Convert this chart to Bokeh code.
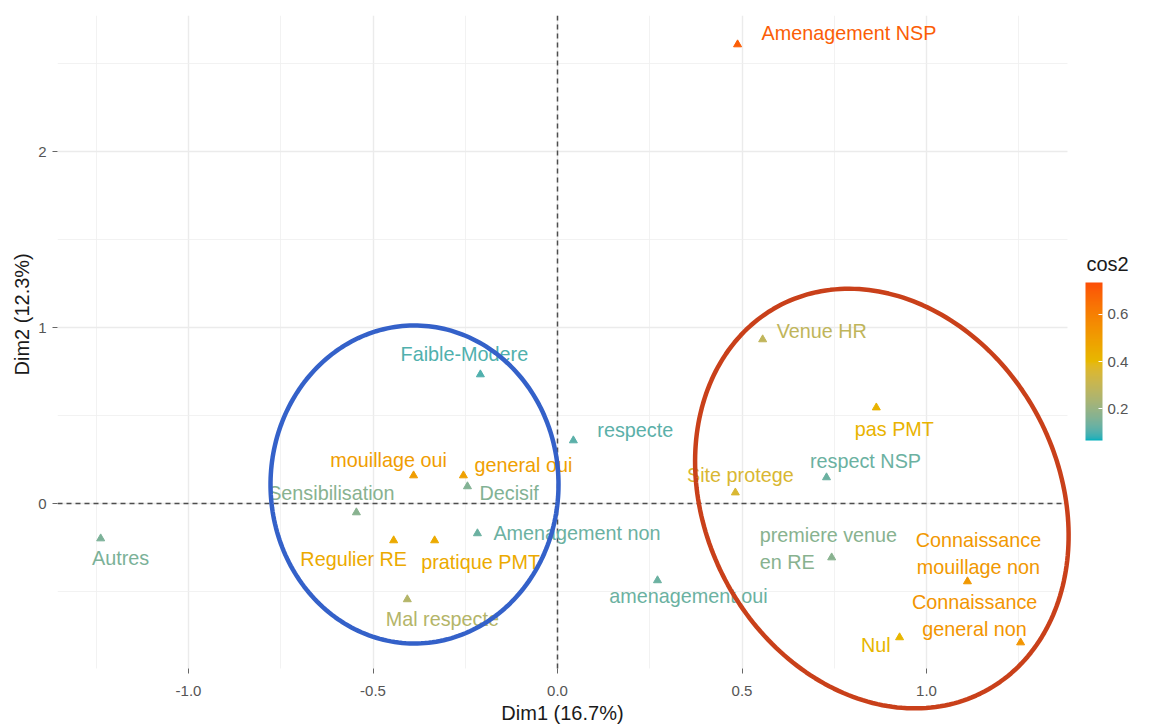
import numpy as np
from bokeh.plotting import figure
from bokeh.models import (ColumnDataSource, LinearColorMapper, ColorBar, FixedTicker,
                          PolyAnnotation, Title)
from bokeh.transform import transform
from bokeh.core.properties import value, field
from bokeh.embed import file_html
from bokeh.resources import INLINE

# ---------------- data ----------------
labels = ["Amenagement NSP", "Venue HR", "Faible-Modere", "pas PMT", "respecte",
          "respect NSP", "Site protege", "mouillage oui", "general oui", "Decisif",
          "Sensibilisation", "Regulier RE", "pratique PMT", "Amenagement non",
          "Mal respecte", "Autres", "amenagement oui", "premiere venue\nen RE",
          "Connaissance\nmouillage non", "Connaissance\ngeneral non", "Nul"]
dim1 = [0.488, 0.556, -0.209, 0.864, 0.043,
        0.729, 0.482, -0.390, -0.255, -0.244,
        -0.545, -0.444, -0.333, -0.217,
        -0.407, -1.238, 0.271, 0.743,
        1.111, 1.255, 0.927]
dim2 = [2.608, 0.932, 0.733, 0.545, 0.358,
        0.148, 0.062, 0.159, 0.159, 0.097,
        -0.051, -0.210, -0.210, -0.170,
        -0.545, -0.199, -0.437, -0.307,
        -0.443, -0.790, -0.761]
cos2 = [0.70, 0.29, 0.10, 0.42, 0.11,
        0.13, 0.36, 0.50, 0.49, 0.16,
        0.17, 0.45, 0.45, 0.13,
        0.26, 0.15, 0.13, 0.17,
        0.52, 0.53, 0.41]
cos2_ticks = [0.2, 0.4, 0.6]
x_ticks = [-1.0, -0.5, 0.0, 0.5, 1.0]
x_minor = [-1.25, -0.75, -0.25, 0.25, 0.75, 1.25]
y_ticks = [0, 1, 2]
y_minor = [-0.5, 0.5, 1.5, 2.5]
x_title = "Dim1 (16.7%)"
y_title = "Dim2 (12.3%)"
legend_title = "cos2"

# label placement (screen pixel offsets, repel-like)
label_dx = [24, 14, -16, 18, 24, 39, 5, -25, 11, 12, -25, -40, 46, 16, 35, 20, 31, -72, 11, -46, -9]
label_dy = [-11, -8, -20, 21, -10, -16, -18, -16, -11, 7, -19, 19, 22, 0, 20, 19, 16, -9, -28, -27, 8]
label_align = ["left", "left", "center", "center", "left", "center", "center", "center", "left",
               "left", "center", "center", "center", "left", "center", "center", "center", "left",
               "center", "center", "right"]

# ---------------- colour scale (Lab interpolation like ggplot) ----------------
def hex2rgb(h):
    h = h.lstrip("#")
    return [int(h[i:i + 2], 16) for i in (0, 2, 4)]

WN = (0.95047, 1.0, 1.08883)

def rgb2lab(c):
    def lin(v):
        v = v / 255
        return v / 12.92 if v <= 0.04045 else ((v + 0.055) / 1.055) ** 2.4
    R, G, B = (lin(v) for v in c)
    X = 0.4124564 * R + 0.3575761 * G + 0.1804375 * B
    Y = 0.2126729 * R + 0.7151522 * G + 0.0721750 * B
    Z = 0.0193339 * R + 0.1191920 * G + 0.9503041 * B
    def f(t):
        return t ** (1 / 3) if t > 216 / 24389 else (24389 / 27 * t + 16) / 116
    fx, fy, fz = f(X / WN[0]), f(Y / WN[1]), f(Z / WN[2])
    return (116 * fy - 16, 500 * (fx - fy), 200 * (fy - fz))

def lab2hex(lab):
    L, a, b = lab
    fy = (L + 16) / 116
    fx = fy + a / 500
    fz = fy - b / 200
    def finv(t):
        return t ** 3 if t ** 3 > 216 / 24389 else (116 * t - 16) / (24389 / 27)
    X, Y, Z = finv(fx) * WN[0], finv(fy) * WN[1], finv(fz) * WN[2]
    R = 3.2404542 * X - 1.5371385 * Y - 0.4985314 * Z
    G = -0.9692660 * X + 1.8760108 * Y + 0.0415560 * Z
    B = 0.0556434 * X - 0.2040259 * Y + 1.0572252 * Z
    def g(v):
        v = 12.92 * v if v <= 0.0031308 else 1.055 * v ** (1 / 2.4) - 0.055
        return int(round(min(max(v, 0), 1) * 255))
    return "#%02x%02x%02x" % (g(R), g(G), g(B))

low_c, mid_c, high_c = (rgb2lab(hex2rgb(h)) for h in ("#00AFBB", "#E7B800", "#FC4E07"))
palette = []
N = 256
for i in range(N):
    t = i / (N - 1)
    if t <= 0.5:
        s, a0, a1 = t * 2, low_c, mid_c
    else:
        s, a0, a1 = (t - 0.5) * 2, mid_c, high_c
    palette.append(lab2hex(tuple(a0[k] + (a1[k] - a0[k]) * s for k in range(3))))

mapper = LinearColorMapper(palette=palette, low=0.065, high=0.735)

# ---------------- figure ----------------
PX0, PX1 = 57, 1164          # frame (page px); legend lives inside the right part
PY0, PY1 = 15, 725
PANEL_R, PANEL_B = 1067, 668  # visible panel edges (page px)
X_ZERO, X_UNIT = 557, 369.0   # page px of x=0 and px per unit
Y_ZERO, Y_UNIT = 503, 176.0
X0, X1 = (PX0 - X_ZERO) / X_UNIT, (PX1 - X_ZERO) / X_UNIT
Y0, Y1 = (Y_ZERO - PY1) / Y_UNIT, (Y_ZERO - PY0) / Y_UNIT
AXIS_Y = (Y_ZERO - PANEL_B) / Y_UNIT
AXIS_XR = (PANEL_R - X_ZERO) / X_UNIT
FW, FH = PX1 - PX0, PY1 - PY0

p = figure(frame_width=FW, frame_height=FH, x_range=(X0, X1), y_range=(Y0, Y1),
           output_backend="svg", toolbar_location=None,
           min_border_left=PX0, min_border_top=PY0, min_border_bottom=0, min_border_right=0)
p.outline_line_color = None
p.background_fill_color = "white"

for ax, ticks, minor in ((p.xaxis, x_ticks, x_minor), (p.yaxis, y_ticks, y_minor)):
    ax.ticker = FixedTicker(ticks=ticks, minor_ticks=minor)
    ax.axis_line_color = None
    ax.major_tick_line_color = "#666666"
    ax.major_tick_out = 5
    ax.major_tick_in = 0
    ax.minor_tick_line_color = None
    ax.major_label_text_font = "Liberation Sans"
    ax.major_label_text_font_size = "15px"
    ax.major_label_text_color = "#555555"
    ax.axis_label_text_font = "Liberation Sans"
    ax.axis_label_text_font_size = "20px"
    ax.axis_label_text_font_style = "normal"
    ax.axis_label_text_color = "#1a1a1a"

p.xaxis.fixed_location = AXIS_Y
p.xaxis.bounds = (X0, AXIS_XR)
p.yaxis.bounds = (AXIS_Y, Y1)
p.xaxis.axis_label = x_title
p.xaxis.major_label_standoff = 12
p.xaxis.axis_label_standoff = 3
p.yaxis.major_label_standoff = 6
p.xaxis.major_label_overrides = {-1.0: "-1.0", -0.5: "-0.5", 0.0: "0.0", 0.5: "0.5", 1.0: "1.0"}

# y-axis title, left of the axis; starts (bottom end) ~375 px down the page
p.add_layout(Title(text=y_title, align="left", offset=PY1 - 375, standoff=6,
                   text_font="Liberation Sans", text_font_size="20px",
                   text_font_style="normal", text_color="#1a1a1a"), "left")

for g in (p.xgrid, p.ygrid):
    g.grid_line_color = "#EBEBEB"
    g.grid_line_width = 1.4
    g.minor_grid_line_color = "#EFEFEF"
    g.minor_grid_line_width = 0.8
if "cross_bounds" in p.xgrid[0].properties():
    p.xgrid.cross_bounds = (AXIS_Y, Y1)
    p.ygrid.cross_bounds = (X0, AXIS_XR)

# dashed reference lines at x = 0 and y = 0
p.segment(x0=[0, X0], y0=[AXIS_Y, 0], x1=[0, AXIS_XR], y1=[Y1, 0], line_color="#4d4d4d",
          line_width=1.5, line_dash="5 4")

src = ColumnDataSource(dict(label=labels, x=dim1, y=dim2, cos2=cos2,
                            dx=label_dx, dy=label_dy, align=label_align))

p.scatter("x", "y", source=src, marker="triangle", size=8,
          fill_color=transform("cos2", mapper), line_color=transform("cos2", mapper))
p.text("x", "y", text="label", source=src, x_offset="dx", y_offset="dy",
       text_align=field("align"), text_baseline="middle",
       text_color=transform("cos2", mapper), text_font=value("Liberation Sans"),
       text_font_size="19.8px", text_line_height=1.2)

# hand-drawn highlight ellipses (centre in data units, axes in screen px)
ell_cx = [-0.3875, 0.879]
ell_cy = [0.108, 0.028]
ell_w = [288, 353]
ell_h = [318, 437]
ell_angle = [0.0, 0.494]
ell_color = ["#3461C9", "#C9401A"]
t = np.linspace(0, 2 * np.pi, 240)
for cx, cy, w, h, ang, col in zip(ell_cx, ell_cy, ell_w, ell_h, ell_angle, ell_color):
    ex = (w / 2) * np.cos(t)
    ey = (h / 2) * np.sin(t)
    rx = ex * np.cos(ang) - ey * np.sin(ang)
    ry = ex * np.sin(ang) + ey * np.cos(ang)
    p.add_layout(PolyAnnotation(xs=list(cx + rx / X_UNIT), ys=list(cy + ry / Y_UNIT),
                                fill_color=None, fill_alpha=0,
                                line_color=col, line_alpha=1.0, line_width=4.5))

# colour legend (bar + horizontal title above it)
cb = ColorBar(color_mapper=mapper, ticker=FixedTicker(ticks=cos2_ticks),
              width=17, height=158,
              major_label_text_font="Liberation Sans", major_label_text_font_size="15px",
              major_label_text_color="#555555",
              major_tick_line_color="white", major_tick_in=4, major_tick_out=0,
              bar_line_color=None, border_line_color=None, background_fill_color=None,
              padding=0, margin=0, location=(1085 - PX0, PY1 - 440))
p.add_layout(cb, "center")
p.text(x=[(1086 - X_ZERO) / X_UNIT], y=[(Y_ZERO - 263) / Y_UNIT], text=[legend_title],
       text_align="left", text_baseline="middle", text_color="#1a1a1a",
       text_font=value("Liberation Sans"), text_font_size="20px")

open("out.html", "w").write(file_html(p, INLINE))
